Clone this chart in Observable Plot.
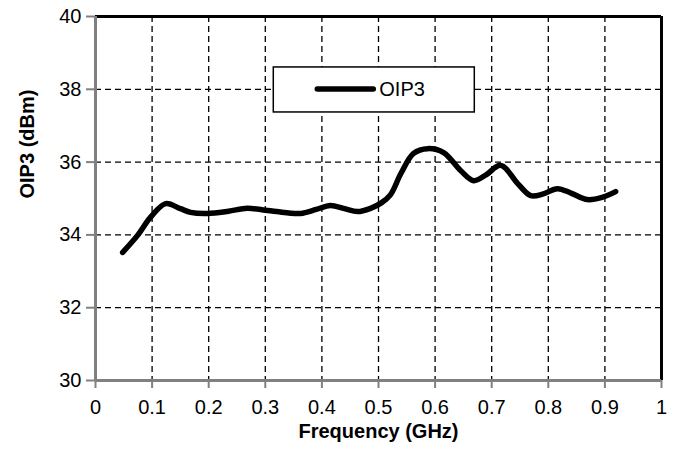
<!DOCTYPE html>
<html><head><meta charset="utf-8">
<script src="https://cdn.jsdelivr.net/npm/d3@7"></script>
<script src="https://cdn.jsdelivr.net/npm/@observablehq/plot@0.6"></script>
<style>
body{margin:0;background:#fff;}
svg{font-family:"Liberation Sans",Arial,sans-serif;}
</style></head><body>
<div id="chart"></div>
<script>
const freq = [0.048,0.075,0.097,0.124,0.150,0.168,0.198,0.235,0.268,0.300,0.320,0.362,0.390,0.415,0.440,0.463,0.486,0.505,0.521,0.540,0.562,0.587,0.615,0.645,0.668,0.690,0.716,0.746,0.769,0.790,0.816,0.840,0.869,0.895,0.919];
const oip3 = [33.52,34.0,34.48,34.86,34.72,34.62,34.59,34.65,34.73,34.68,34.64,34.59,34.70,34.81,34.72,34.64,34.73,34.88,35.10,35.70,36.24,36.37,36.26,35.77,35.49,35.65,35.91,35.41,35.08,35.12,35.27,35.15,34.97,35.03,35.19];
const xTicks = [0,0.1,0.2,0.3,0.4,0.5,0.6,0.7,0.8,0.9,1];
const xTickLabels = ["0","0.1","0.2","0.3","0.4","0.5","0.6","0.7","0.8","0.9","1"];
const yTicks = [30,32,34,36,38,40];
const xGrid = [0.1,0.2,0.3,0.4,0.5,0.6,0.7,0.8,0.9];
const yGrid = [32,34,36,38];
const seriesName = "OIP3";

const data = freq.map((f,i)=>({f, v: oip3[i]}));

const plot = Plot.plot({
  width: 673, height: 449,
  marginLeft: 95, marginRight: 12, marginTop: 16, marginBottom: 69,
  style: {fontFamily: '"Liberation Sans", Arial, sans-serif', fontSize: "20px", background: "#fff", color: "#000"},
  x: {domain: [0,1]},
  y: {domain: [30,40]},
  marks: [
    Plot.ruleX(xGrid, {stroke: "#000", strokeWidth: 1.3, strokeDasharray: "6,4"}),
    Plot.ruleY(yGrid, {stroke: "#000", strokeWidth: 1.3, strokeDasharray: "6,4"}),
    Plot.ruleY([40], {stroke: "#000", strokeWidth: 3}),
    Plot.ruleX([1], {stroke: "#000", strokeWidth: 3}),
    Plot.ruleX([0], {stroke: "#808080", strokeWidth: 3}),
    Plot.ruleY([30], {stroke: "#808080", strokeWidth: 3}),
    Plot.axisX({ticks: xTicks, tickFormat: (d,i)=>xTickLabels[i], tickSize: 8, tickPadding: 11, stroke: "#808080", strokeWidth: 2, fill: "#000", fontSize: 20, label: null}),
    Plot.axisY({ticks: yTicks, tickSize: 9, tickPadding: 5, stroke: "#808080", strokeWidth: 2, fill: "#000", fontSize: 20, label: null}),
    Plot.text(["Frequency (GHz)"], {frameAnchor: "bottom", dy: 57, fontWeight: "bold", fontSize: 20}),
    Plot.text(["OIP3 (dBm)"], {frameAnchor: "left", dx: -68, rotate: -90, fontWeight: "bold", fontSize: 20}),
    Plot.line(data, {x: "f", y: "v", stroke: "#000", strokeWidth: 5.5, curve: "catmull-rom", strokeLinecap: "round"})
  ]
});
document.getElementById("chart").append(plot);

const svg = d3.select(plot);
// force tick label size
svg.selectAll('g[aria-label$="tick label"]').attr("font-size", 20).selectAll("text").attr("font-size", 20);

// legend inside the plot
const sx = plot.scale("x"), sy = plot.scale("y");
const g = svg.append("g");
const lx0 = sx.apply(0.315), ly0 = sy.apply(38.6);
g.append("rect").attr("x", lx0).attr("y", ly0).attr("width", 201).attr("height", 45)
  .attr("fill", "#fff").attr("stroke", "#000").attr("stroke-width", 1.5);
g.append("line").attr("x1", lx0+44).attr("x2", lx0+100).attr("y1", ly0+22).attr("y2", ly0+22)
  .attr("stroke", "#000").attr("stroke-width", 5.5).attr("stroke-linecap", "round");
g.append("text").attr("x", lx0+106).attr("y", ly0+22).attr("dy", "0.35em")
  .attr("text-anchor", "start").style("font-size", "20px").attr("fill", "#000").text(seriesName);
</script>
</body></html>
